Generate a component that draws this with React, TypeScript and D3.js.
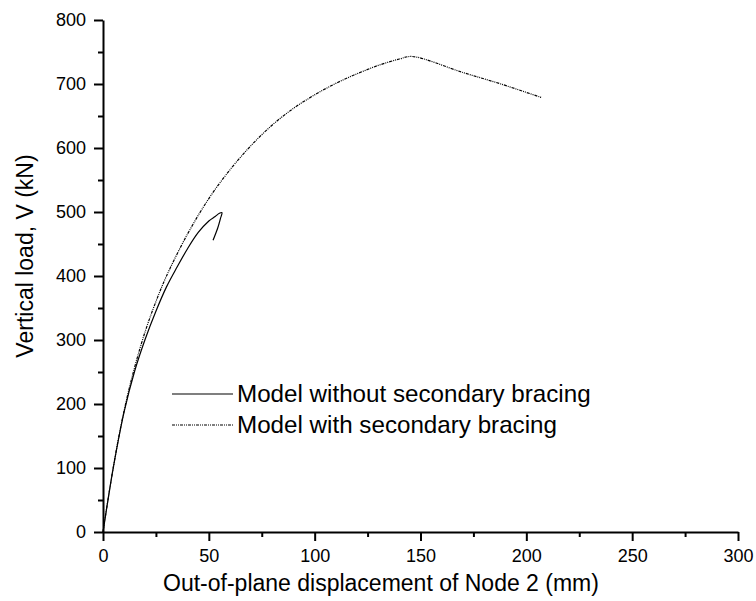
import * as d3 from "d3";
import { useEffect, useRef } from "react";

// out-of-plane displacement (mm), vertical load (kN)
const withoutX = [0, 5, 10, 15, 20, 25, 30, 35, 40, 45, 50, 53, 55, 56.2, 55.5, 54.2, 52];
const withoutV = [0, 103, 188, 252, 302, 345, 383, 414, 443, 468, 486, 493, 498, 499, 490, 475, 456];

const withX = [0, 5, 10, 15, 20, 25, 30, 40, 50, 60, 70, 80, 90, 100, 110, 120, 130, 140, 146, 170, 188, 207];
const withV = [0, 104, 190, 258, 314, 360, 400, 466, 521, 566, 604, 636, 662, 683, 701, 716, 729, 739, 743, 718, 700, 679];

const xTicks = [0, 50, 100, 150, 200, 250, 300];
const yTicks = [0, 100, 200, 300, 400, 500, 600, 700, 800];
const legendLabels = ["Model without secondary bracing", "Model with secondary bracing"];

export default function App() {
    const svgRef = useRef<SVGSVGElement | null>(null);
    const width = 756;
    const height = 601;

    useEffect(() => {
        const svg = d3.select(svgRef.current);
        svg.selectAll("*").remove();

        const x = d3.scaleLinear().domain([0, 300]).range([103, 738]);
        const y = d3.scaleLinear().domain([0, 800]).range([532, 20]);

        const font = "Liberation Sans, Arial, sans-serif";

        // axes, Origin style: major + minor ticks pointing out
        const xAxis = svg.append("g").attr("transform", `translate(0, ${y(0)})`);
        xAxis.append("g")
            .call(d3.axisBottom(x).tickValues(d3.range(25, 300, 50)).tickSize(5).tickFormat(() => ""))
            .call(g => g.select(".domain").remove());
        xAxis.append("g")
            .call(d3.axisBottom(x).tickValues(xTicks).tickSize(9).tickSizeOuter(0).tickPadding(8))
            .call(g => g.selectAll("text").attr("font-size", 18).attr("font-family", font).attr("fill", "#000"));
        xAxis.selectAll("line, path").attr("stroke", "#000").attr("stroke-width", 2);

        const yAxis = svg.append("g").attr("transform", `translate(${x(0)}, 0)`);
        yAxis.append("g")
            .call(d3.axisLeft(y).tickValues(d3.range(50, 800, 100)).tickSize(5).tickFormat(() => ""))
            .call(g => g.select(".domain").remove());
        yAxis.append("g")
            .call(d3.axisLeft(y).tickValues(yTicks).tickSize(9).tickSizeOuter(0).tickPadding(8))
            .call(g => g.selectAll("text").attr("font-size", 18).attr("font-family", font).attr("fill", "#000"));
        yAxis.selectAll("line, path").attr("stroke", "#000").attr("stroke-width", 2);

        svg.append("text")
            .attr("x", 381)
            .attr("y", 591)
            .attr("text-anchor", "middle")
            .attr("font-size", 23)
            .attr("font-family", font)
            .text("Out-of-plane displacement of Node 2 (mm)");

        svg.append("text")
            .attr("transform", `translate(33, 256) rotate(-90)`)
            .attr("text-anchor", "middle")
            .attr("font-size", 23)
            .attr("font-family", font)
            .text("Vertical load, V (kN)");

        const line = d3.line<[number, number]>()
            .x(d => x(d[0]))
            .y(d => y(d[1]))
            .curve(d3.curveCatmullRom);

        const series = [
            { pts: withoutX.map((v, i) => [v, withoutV[i]] as [number, number]), dash: null },
            { pts: withX.map((v, i) => [v, withV[i]] as [number, number]), dash: "3,1,1,1,1,1" },
        ];

        series.forEach(s => {
            svg.append("path")
                .attr("d", line(s.pts))
                .attr("fill", "none")
                .attr("stroke", "#000")
                .attr("stroke-width", 1.2)
                .attr("stroke-dasharray", s.dash);
        });

        // legend
        const legend = svg.append("g");
        legendLabels.forEach((label, i) => {
            const ly = 394 + i * 31;
            legend.append("line")
                .attr("x1", 172).attr("x2", 233)
                .attr("y1", ly).attr("y2", ly)
                .attr("stroke", "#000")
                .attr("stroke-width", 1.2)
                .attr("stroke-dasharray", series[i].dash);
            legend.append("text")
                .attr("x", 237)
                .attr("y", ly + 8)
                .attr("font-size", 24.2)
                .attr("font-family", font)
                .text(label);
        });
    }, []);

    return (
        <svg ref={svgRef} width={width} height={height}
            style={{ position: "absolute", left: 0, top: 0, background: "#fff" }} />
    );
}
